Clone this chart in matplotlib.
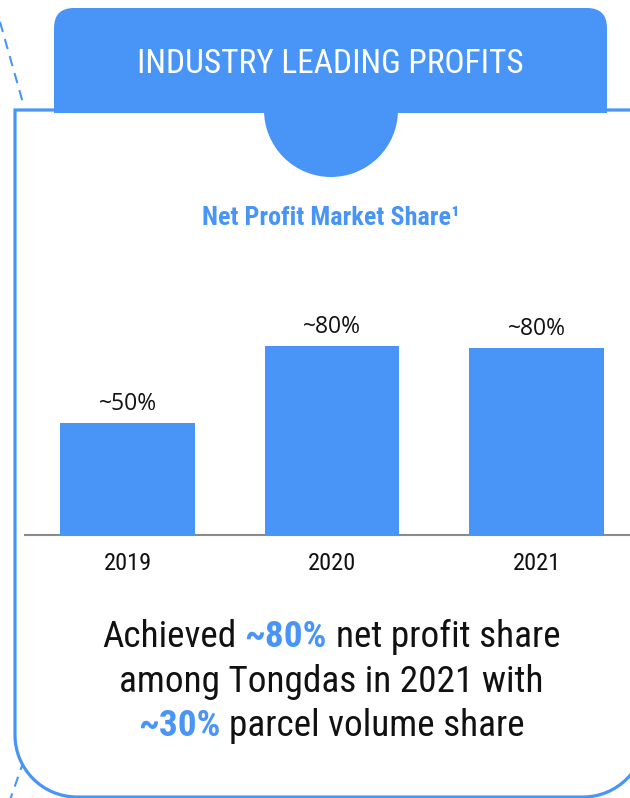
import matplotlib
matplotlib.use('Agg')
import matplotlib.pyplot as plt
from matplotlib import font_manager
from matplotlib.patches import FancyBboxPatch, Rectangle, Circle, PathPatch
from matplotlib.path import Path

# data
years = ['2019', '2020', '2021']
share = [47.5, 80, 79.2]
share_labels = ['~50%', '~80%', '~80%']
title = 'INDUSTRY LEADING PROFITS'
subtitle = 'Net Profit Market Share\u00b9'
summary = [
    [('Achieved', 'k'), ('~80%', 'b'), ('net profit share', 'k')],
    [('among Tongdas in 2021 with', 'k')],
    [('~30%', 'b'), ('parcel volume share', 'k')],
]

blue = '#4895F7'
ink = '#111111'

# look for a condensed face, else fall back to Roboto
narrow, stretch = 'Roboto', 'normal'
fl = font_manager.fontManager.ttflist
cond = [f for f in fl if 'Condensed' in f.name or 'Narrow' in f.name]
cond += [f for f in fl if f.stretch not in ('normal', 500, 'medium')
         and isinstance(f.stretch, int) and f.stretch < 500]
for pref in ['Roboto', 'Liberation', 'Noto', 'Open', 'DejaVu', '']:
    hit = [f for f in cond if f.name.startswith(pref)]
    if hit:
        narrow = hit[0].name
        stretch = hit[0].stretch
        break

W, H = 630, 798
fig = plt.figure(figsize=(W / 100, H / 100), dpi=100)

bg = fig.add_axes([0, 0, 1, 1])
bg.set_xlim(0, W)
bg.set_ylim(H, 0)
bg.axis('off')

fig.canvas.draw()
rend = fig.canvas.get_renderer()


def width_px(s, size, **kw):
    t = bg.text(0, 0, s, fontsize=size, family=narrow, stretch=stretch, **kw)
    w = t.get_window_extent(rend).width
    t.remove()
    return w


def fit(s, target, **kw):
    # font size giving the wanted pixel width
    return 20 * target / width_px(s, 20, **kw)


def run_widths(runs, size):
    gap = width_px('a a', size) - width_px('aa', size)
    ws = [width_px(t, size, weight='bold' if c == 'b' else 'normal') for t, c in runs]
    return ws, gap, sum(ws) + gap * (len(runs) - 1)


# dashed outline behind the card
bg.plot([0, 23], [22, 103], color=blue, lw=1.5, ls=(0, (5, 3.5)), zorder=1)
bg.plot([24, 10], [760, 800], color=blue, lw=1.5, ls=(0, (5, 3.5)), zorder=1)

# card: square top corners, rounded bottom corners
x0, x1, y0, y1, r = 15, 645, 110, 797, 62
k = 0.5523 * r
verts = [(x1, y0), (x0, y0), (x0, y1 - r),
         (x0, y1 - r + k), (x0 + r - k, y1), (x0 + r, y1),
         (x1 - r, y1),
         (x1 - r + k, y1), (x1, y1 - r + k), (x1, y1 - r),
         (x1, y0)]
codes = [Path.MOVETO, Path.LINETO, Path.LINETO,
         Path.CURVE4, Path.CURVE4, Path.CURVE4,
         Path.LINETO,
         Path.CURVE4, Path.CURVE4, Path.CURVE4,
         Path.CLOSEPOLY]
bg.add_patch(PathPatch(Path(verts, codes), facecolor='white', edgecolor=blue,
                       lw=2.3, zorder=2))

# header tab
bg.add_patch(FancyBboxPatch((54, 8), 553, 105, boxstyle='round,pad=0,rounding_size=20',
                            facecolor=blue, edgecolor='none', zorder=3))
bg.add_patch(Rectangle((54, 60), 553, 53, facecolor=blue, edgecolor='none', zorder=3))
bg.add_patch(Circle((331, 110), 67, facecolor=blue, edgecolor='none', zorder=3))

bg.text(330, 64, title, color='white', fontsize=fit(title, 386), family=narrow,
        stretch=stretch, ha='center', va='center', zorder=4)
bg.text(331, 218, subtitle, color=blue, fontsize=fit(subtitle, 257, weight='bold'),
        family=narrow, stretch=stretch, weight='bold', ha='center', va='center', zorder=4)

# bar chart
px_per_unit = 189 / 80
ax_left, ax_right, ax_base, ax_top = 25, 630, 535, 290
ax = fig.add_axes([ax_left / W, 1 - ax_base / H, (ax_right - ax_left) / W,
                   (ax_base - ax_top) / H])
ax.patch.set_alpha(0)
step = 204.5
ax.set_xlim((ax_left - 127.5) / step, (ax_right - 127.5) / step)
ax.set_ylim(0, (ax_base - ax_top) / px_per_unit)
xs = range(len(years))
ax.bar(xs, share, width=0.66, color=blue, zorder=3)
for x, v, lab in zip(xs, share, share_labels):
    ax.annotate(lab, (x, v), xytext=(0, 5), textcoords='offset points',
                ha='center', va='bottom', fontsize=16.5, family='Open Sans', color=ink)
ax.set_xticks(list(xs))
ax.set_xticklabels(years, fontsize=fit('2019', 48), family=narrow, stretch=stretch,
                   color=ink)
ax.tick_params(axis='x', length=0, pad=12)
ax.set_yticks([])
for s in ['top', 'left', 'right']:
    ax.spines[s].set_visible(False)
ax.spines['bottom'].set_color('#8a8a8a')
ax.spines['bottom'].set_linewidth(1.5)

# summary text: centred lines, blue runs in bold
size = 20 * 458 / run_widths(summary[0], 20)[2]
line_y = [637, 682, 726]
for runs, y in zip(summary, line_y):
    ws, gap, total = run_widths(runs, size)
    xl = 331 - total / 2
    for (txt, c), w in zip(runs, ws):
        bg.text(xl, y, txt, fontsize=size, family=narrow, stretch=stretch,
                weight='bold' if c == 'b' else 'normal',
                color=blue if c == 'b' else ink, ha='left', va='center', zorder=4)
        xl += w + gap

fig.savefig('out.png', dpi=100)
